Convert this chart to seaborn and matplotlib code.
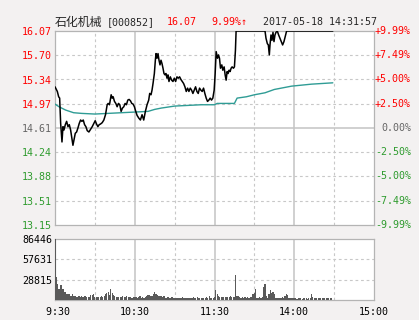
import numpy as np
import pandas as pd
import matplotlib
matplotlib.use("Agg")
import matplotlib.pyplot as plt
import seaborn as sns

sns.set_style("white")
plt.rcParams['font.family'] = ['DejaVu Sans Mono', 'Noto Sans CJK SC']

# ---------------- data ----------------
stock_name = "石化机械"
stock_code = "[000852]"
last_price = "16.07"
change_txt = "9.99%↑"
stamp = "2017-05-18 14:31:57"
prev_close = 14.61
upper, lower = 16.07, 13.15
price_labels = ["13.15", "13.51", "13.88", "14.24", "14.61", "14.97", "15.34", "15.70", "16.07"]
pct_labels = ["-9.99%", "-7.49%", "-5.00%", "-2.50%", "0.00%", "+2.50%", "+5.00%", "+7.49%", "+9.99%"]
vol_ticks = [28815, 57631, 86446]
vol_labels = ["28815", "57631", "86446"]
time_ticks = [0, 60, 120, 180, 240]
time_labels = [" 9:30", "10:30", "11:30", "14:00", "15:00"]

# price path (minutes after 9:30 in trading time, price)
price_min = [0, 1.75, 2.75, 3.5, 4.25, 5.25, 6, 6.75, 7.75, 8.75, 9.75, 10.75, 11.75, 12.5,
             13.5, 14.25, 15.25, 16.25, 17.25, 18.25, 19.25, 20.25, 21.25, 22.25, 23.25,
             24.25, 25.5, 26.75, 28, 29.25, 30.25, 31.25, 32.25, 33.25, 34.25, 35.5, 36.75,
             38, 39.25, 40, 41, 42.25, 43, 43.75, 44.75, 45.75, 46.75, 47.75, 48.75, 49.75,
             50.75, 51.75, 52.75, 53.75, 54.75, 55.75, 56.75, 57.75, 58.75, 59.75, 60.75,
             61.75, 63, 64.25, 65.5, 66.75, 68, 69.25, 70.5, 71.25, 72.25, 73, 73.75, 74.75,
             75.5, 76, 76.75, 77.5, 78.25, 79, 79.75, 80.5, 81.25, 82, 82.75, 83.5, 84.25,
             85, 85.75, 86.75, 87.75, 88.75, 89.75, 90.75, 91.75, 92.75, 93.75, 94.75, 95.75,
             96.75, 97.75, 98.75, 99.75, 100.75, 101.75, 102.75, 103.75, 104.75, 105.75,
             106.75, 107.75, 108.75, 109.75, 110.75, 111.75, 112.75, 113.75, 114.75, 115.75,
             116.75, 117.75, 118.75, 119.75, 120.5, 121.25, 122.25, 123, 123.75, 124.5,
             125.5, 126.25, 127.25, 128, 128.75, 129.5, 130.25, 131, 131.75, 132.5, 133.25,
             134.25, 135, 135.75, 136.25, 158, 158.75, 159.75, 160.5, 161.25, 161.75, 162.5,
             163.25, 164, 164.75, 165.5, 166.25, 167.25, 168.25, 169.25, 170.25, 171.25,
             172.25, 173.25, 174.25, 209]
price = [15.23, 15.16, 15.08, 15.06, 14.68, 14.40, 14.63, 14.58, 14.66, 14.71, 14.63, 14.66,
         14.58, 14.48, 14.35, 14.43, 14.53, 14.55, 14.61, 14.68, 14.73, 14.71, 14.73, 14.66,
         14.63, 14.57, 14.55, 14.59, 14.63, 14.68, 14.72, 14.67, 14.63, 14.66, 14.67, 14.69,
         14.73, 14.81, 14.96, 14.98, 14.96, 15.11, 15.06, 15.08, 15.01, 14.98, 14.93, 14.98,
         14.96, 14.86, 14.91, 14.93, 14.98, 14.96, 15.03, 15.04, 15.02, 14.98, 14.97, 14.93,
         14.86, 14.80, 14.76, 14.73, 14.81, 14.73, 14.86, 14.96, 15.03, 15.13, 15.11, 15.18,
         15.28, 15.43, 15.63, 15.73, 15.66, 15.73, 15.63, 15.56, 15.63, 15.58, 15.51, 15.43,
         15.41, 15.43, 15.36, 15.41, 15.31, 15.38, 15.33, 15.31, 15.36, 15.31, 15.38, 15.36,
         15.38, 15.34, 15.31, 15.28, 15.23, 15.16, 15.21, 15.16, 15.21, 15.18, 15.13, 15.18,
         15.23, 15.16, 15.13, 15.21, 15.18, 15.16, 15.21, 15.13, 15.06, 15.01, 15.03, 15.06,
         15.03, 15.06, 15.18, 15.43, 15.76, 15.66, 15.71, 15.66, 15.51, 15.56, 15.48, 15.53,
         15.41, 15.33, 15.46, 15.43, 15.48, 15.46, 15.51, 15.53, 15.51, 15.53, 15.78, 16.07,
         16.07, 15.96, 15.88, 15.86, 15.71, 15.86, 16.01, 15.93, 16.05, 15.91, 16.01, 16.05,
         16.07, 16.01, 15.96, 15.91, 15.86, 15.91, 15.99, 16.07, 16.07]

# average price line
avg_min = [0, 3, 8, 14, 20, 30, 40, 50, 60, 70, 75, 80, 90, 100, 110, 120, 122, 135, 137,
           144, 150, 158, 165, 178, 193, 209]
avg_price = [14.97, 14.93, 14.88, 14.84, 14.83, 14.82, 14.83, 14.84, 14.85, 14.86, 14.89,
             14.91, 14.94, 14.95, 14.96, 14.96, 14.98, 14.98, 15.06, 15.08, 15.11, 15.14,
             15.19, 15.24, 15.27, 15.29]

# per-minute volume
volume = [86446, 32000, 23000, 15000, 21000, 21000, 15000, 12000, 12000, 8500,
          8000, 8000, 5000, 9000, 6000, 5500, 4500, 4500, 5000, 4500,
          5500, 4000, 6000, 5000, 4500, 4000, 4500, 6500, 7500, 9000,
          4500, 4000, 4500, 4000, 4500, 5000, 4000, 6000, 8500, 10000,
          12000, 7000, 15000, 10000, 7500, 5500, 4500, 4000, 4500, 4000,
          4500, 5000, 4000, 4500, 6000, 4500, 4000, 4000, 3500, 4000,
          4500, 4000, 3500, 4000, 5500, 3500, 4000, 3500, 4000, 5500,
          6500, 7000, 5500, 5000, 9000, 11500, 8000, 7500, 6000, 5000,
          5500, 4500, 5000, 3500, 3500, 4000, 3500, 3500, 4000, 3000,
          3500, 3000, 3500, 3500, 3000, 3500, 4000, 3500, 3000, 3500,
          3000, 3500, 3000, 3500, 4000, 3000, 3500, 4500, 3000, 3500,
          3000, 3500, 3000, 3500, 4000, 3000, 5000, 3500, 3000, 3500,
          4000, 13500, 8000, 6000, 4500, 4000, 4500, 4000, 4000, 4000,
          4500, 4000, 5000, 4000, 4500, 4000, 35500, 6000, 5000, 4000,
          3500, 4000, 3500, 4000, 3500, 4000, 3500, 4000, 4500, 8000,
          10500, 15000, 3500, 3000, 4000, 3000, 4500, 18000, 22000, 6000,
          3500, 8000, 13500, 10000, 11500, 8000, 3500, 3000, 3000, 3500,
          3500, 4000, 3500, 5000, 9000, 7000, 3500, 2500, 2500, 2500,
          2500, 2500, 2000, 2500, 2500, 2500, 2000, 2500, 2500, 2500,
          2000, 2500, 2500, 9000, 4000, 2500, 2500, 2500, 2500, 2500,
          2500, 2500, 2500, 2500, 2500, 2500, 2500, 2500, 2500]

# ---------------- style ----------------
bg = "#f3f1f1"
red, green, gray = "#ff0000", "#2e9b2e", "#666666"
grid_c = "#c8c8c8"
solid_c = "#c4c4c4"
spine_c = "#b4b4b4"
fs = 7.2

W, H = 419, 320
fig = plt.figure(figsize=(W / 100, H / 100), dpi=100, facecolor=bg)
ax = fig.add_axes([55 / W, 1 - 225 / H, 319 / W, 194 / H])
axv = fig.add_axes([55 / W, 1 - 300 / H, 319 / W, 61 / H])

price_ticks = np.linspace(lower, upper, len(price_labels))
label_colors = [green] * 4 + [gray] + [red] * 4

for a in (ax, axv):
    a.set_facecolor("white")
    for s in a.spines.values():
        s.set_color(spine_c)
        s.set_linewidth(0.9)
    for t in [30, 90, 150, 210]:
        a.axvline(t, color=grid_c, ls=(0, (2.5, 2.5)), lw=0.8, zorder=0)
    for t in [60, 120, 180]:
        a.axvline(t, color=solid_c, lw=1.1, zorder=0)

for p in price_ticks[1:-1]:
    if abs(p - prev_close) < 1e-6:
        ax.axhline(p, color=solid_c, lw=1.1, zorder=0)
    else:
        ax.axhline(p, color=grid_c, ls=(0, (2.5, 2.5)), lw=0.8, zorder=0)
for v in vol_ticks[:-1]:
    axv.axhline(v, color=grid_c, ls=(0, (2.5, 2.5)), lw=0.8, zorder=0)

# lines
sns.lineplot(x=avg_min, y=avg_price, ax=ax, color="#2f9c95", linewidth=1.0,
             estimator=None, sort=False, zorder=3)
sns.lineplot(x=price_min, y=price, ax=ax, color="black", linewidth=1.1,
             estimator=None, sort=False, zorder=4)

# volume bars
sns.barplot(x=np.arange(len(volume)), y=volume, native_scale=True, ax=axv,
            color="#5a5a5a", saturation=1, width=0.9, linewidth=0, zorder=3)

ax.set_xlim(0, 240)
ax.set_ylim(lower, upper)
axv.set_xlim(0, 240)
axv.set_ylim(0, vol_ticks[-1])
for a in (ax, axv):
    a.set_xlabel("")
    a.set_ylabel("")

ax.set_yticks(price_ticks)
ax.set_yticklabels(price_labels)
for lab, c in zip(ax.get_yticklabels(), label_colors):
    lab.set_color(c)
ax.tick_params(axis="y", length=0, pad=2.2, labelsize=fs)
ax.set_xticks([])

tr = ax.get_yaxis_transform()
for p, lab, c in zip(price_ticks, pct_labels, label_colors):
    ax.text(1.116, p, lab, transform=tr, ha="right", va="center", color=c,
            fontsize=fs, clip_on=False)

axv.set_yticks(vol_ticks)
axv.set_yticklabels(vol_labels)
axv.tick_params(axis="y", length=0, pad=2.2, labelsize=fs, labelcolor="black")
axv.set_xticks(time_ticks)
axv.set_xticklabels(time_labels)
axv.tick_params(axis="x", length=0, pad=5, labelsize=fs, labelcolor="black")

# header
ty = 1 - 22 / H
fig.text(55 / W, ty, stock_name, family="Noto Sans CJK SC", fontsize=8.6, va="center")
fig.text(107 / W, ty, stock_code, fontsize=fs, va="center")
fig.text(167 / W, ty, last_price, fontsize=fs, va="center", color=red)
fig.text(211 / W, ty, change_txt, fontsize=fs, va="center", color=red)
fig.text(263 / W, ty, stamp, fontsize=fs, va="center")

fig.savefig("out.png", dpi=100, facecolor=bg)
